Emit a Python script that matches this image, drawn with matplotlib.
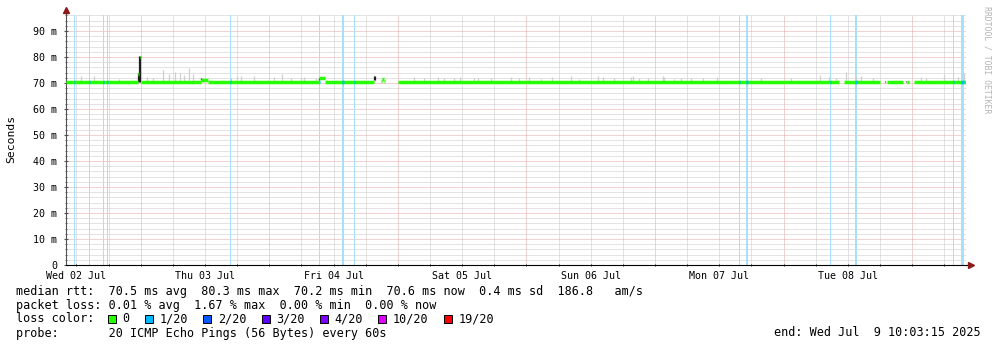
import matplotlib
matplotlib.use("Agg")
import matplotlib.pyplot as plt
from matplotlib.patches import Rectangle

plt.rcParams['font.family'] = ['DejaVu Sans Mono']

# time axis: hours since Wed 02 Jul 2025 00:00
t_start, t_end = 10.054, 178.054
day_label_hours = [12, 36, 60, 84, 108, 132, 156]
day_labels = ["Wed 02 Jul", "Thu 03 Jul", "Fri 04 Jul", "Sat 05 Jul",
              "Sun 06 Jul", "Mon 07 Jul", "Tue 08 Jul"]

y_max = 96.15
yticks = [0, 10, 20, 30, 40, 50, 60, 70, 80, 90]
ytick_labels = ["0", "10 m", "20 m", "30 m", "40 m", "50 m", "60 m",
                "70 m", "80 m", "90 m"]

# median rtt (ms), NaN = no data
med_t = [10.054, 23.45, 23.64, 23.82, 24.01, 35.21, 36.51, 57.23, 58.35,
         67.50, 68.81, 69.09, 69.37, 69.56, 71.98, 154.30, 155.24, 161.96,
         163.27, 166.26, 167.00, 167.38, 168.31, 178.054]
med_v = [70.4, 73.5, float('nan'), 80.0, 70.4, 71.2, 70.4, 71.8, 70.4,
         float('nan'), 70.9, 71.7, 70.9, float('nan'), 70.4, float('nan'),
         70.4, float('nan'), 70.4, float('nan'), 70.4, float('nan'), 70.4, 70.4]

# light smoke spikes (top of ping spread, ms)
smoke_t = [12.81, 15.23, 19.90, 25.13, 26.25, 28.11, 29.23, 30.35, 31.29,
           32.03, 32.97, 33.71, 35.58, 40.81, 41.93, 42.67, 45.10, 48.83,
           50.32, 52.01, 53.87, 54.43, 56.67, 74.97, 76.83, 79.45, 80.57,
           82.43, 83.55, 86.17, 86.91, 89.34, 93.07, 94.57, 96.44, 98.68,
           100.73, 104.28, 105.77, 109.31, 110.25, 112.30, 115.48, 115.85,
           116.97, 118.65, 121.45, 121.63, 123.50, 124.81, 126.68, 128.92,
           131.53, 139.75, 145.35, 150.76, 152.44, 153.75, 155.61, 157.48,
           158.42, 160.66, 169.62, 170.55, 173.91, 176.52, 177.64]
smoke_top = [72.5, 72.6, 71.5, 72.3, 71.8, 75.0, 73.5, 74.3, 73.7,
             73.2, 75.6, 73.5, 71.9, 71.8, 72.7, 72.5, 72.8, 72.2,
             73.3, 71.8, 71.8, 72.2, 71.8, 72.2, 72.0, 72.3, 72.0,
             71.8, 72.3, 72.0, 71.8, 72.0, 72.4, 72.0, 72.2, 71.5,
             72.4, 72.6, 71.6, 72.6, 72.2, 71.8, 72.4, 72.6,
             71.8, 71.8, 72.6, 72.2, 71.5, 71.8, 72.0, 71.8,
             72.2, 72.0, 71.8, 73.1, 72.3, 72.0, 74.3, 72.5,
             72.8, 71.8, 72.3, 72.0, 73.1, 72.4, 73.7]

# dense (dark) smoke
dark_t = [23.55, 23.74, 23.92, 35.21, 57.23, 67.50, 67.69, 162.9, 166.9]
dark_lo = [70.4, 70.4, 70.4, 71.3, 71.0, 71.0, 71.0, 70.2, 70.2]
dark_hi = [74.0, 80.3, 80.3, 71.9, 72.0, 72.6, 72.6, 70.8, 70.8]

# packet loss events (1/20)
loss_t = [11.50, 14.30, 16.91, 17.66, 40.62, 57.24, 61.53, 63.77, 135.63,
          137.03, 152.63, 157.30, 175.59, 177.08, 177.46]
loss_dur = [0.19, 0.19, 0.19, 0.19, 0.19, 0.19, 0.37, 0.19, 0.19,
            0.37, 0.19, 0.37, 0.19, 0.37, 0.19]

loss_labels = ["0", "1/20", "2/20", "3/20", "4/20", "10/20", "19/20"]
loss_colors = ["#26ff00", "#00b8ff", "#0059ff", "#5e00ff", "#7e00ff",
               "#dd00ff", "#ff0000"]

stat_lines = [
    "median rtt:  70.5 ms avg  80.3 ms max  70.2 ms min  70.6 ms now  0.4 ms sd  186.8   am/s",
    "packet loss: 0.01 % avg  1.67 % max  0.00 % min  0.00 % now",
    "loss color:",
    "probe:       20 ICMP Echo Pings (56 Bytes) every 60s",
]
end_text = "end: Wed Jul  9 10:03:15 2025"

W, H = 997, 347
fig = plt.figure(figsize=(W / 100, H / 100), dpi=100)
ax = fig.add_axes([66 / W, (H - 265) / H, 900 / W, 250 / H])
ax.set_xlim(t_start, t_end)
ax.set_ylim(0, y_max)

# grid (dotted)
grid_kw = dict(lw=0.72, ls=(0, (1, 1)), zorder=1)
h = 6 * int(t_start // 6 + 1)
while h < t_end:
    ax.axvline(h, color='#e6a4a4' if h % 24 == 0 else '#c8c8c8', **grid_kw)
    h += 6
for v in range(2, int(y_max) + 1, 2):
    ax.axhline(v, color='#e6a4a4' if v % 10 == 0 else '#c8c8c8', **grid_kw)

# loss background bars
for t, d in zip(loss_t, loss_dur):
    ax.axvspan(t, t + d, color='#a6e0fb', lw=0, zorder=2)

# smoke
ax.vlines(smoke_t, 70.4, smoke_top, color='#cfcfcf', lw=0.9, zorder=3)
ax.vlines(dark_t, dark_lo, dark_hi, color='#1e1e1e', lw=0.9, zorder=4)

# median, one flat piece per sample (no connectors)
for i in range(len(med_t) - 1):
    if med_v[i] == med_v[i]:
        ax.hlines(med_v[i], med_t[i], med_t[i + 1], color=loss_colors[0],
                  lw=2.5, zorder=5)
ax.hlines([70.4] * len(loss_t), loss_t,
          [t + d for t, d in zip(loss_t, loss_dur)],
          color=loss_colors[1], lw=2.5, zorder=6)

# axes
for s in ['top', 'right']:
    ax.spines[s].set_visible(False)
ax.spines['left'].set_color('#505050')
ax.spines['left'].set_linewidth(0.8)
ax.spines['bottom'].set_color('black')
ax.spines['bottom'].set_linewidth(0.8)
ax.plot([0, 0], [1, 1.02], color='#505050', lw=0.8, transform=ax.transAxes,
        clip_on=False)
ax.plot([1, 1.004], [0, 0], color='black', lw=0.8, transform=ax.transAxes,
        clip_on=False)
ax.plot([0], [1.022], marker='^', ms=4, color='#8b1a1a', mec='#8b1a1a',
        transform=ax.transAxes, clip_on=False)
ax.plot([1.005], [0], marker='>', ms=4, color='#8b1a1a', mec='#8b1a1a',
        transform=ax.transAxes, clip_on=False)

ax.set_yticks(yticks)
ax.set_yticklabels(ytick_labels, fontsize=7.2)
ax.set_yticks(range(0, int(y_max) + 1, 2), minor=True)
ax.tick_params(axis='y', which='major', length=3, direction='inout',
               color='#505050', pad=5)
ax.tick_params(axis='y', which='minor', length=2, direction='inout',
               color='#505050')

ax.xaxis.remove_overlapping_locs = False
ax.set_xticks(day_label_hours)
ax.set_xticklabels(day_labels, fontsize=7.2)
ax.set_xticks(range(12, 178, 6), minor=True)
ax.tick_params(axis='x', which='major', length=0, pad=4)
ax.tick_params(axis='x', which='minor', length=2, direction='inout')

fig.text(11 / W, 1 - 139 / H, "Seconds", rotation=90, fontsize=8.2,
         ha='center', va='center')
fig.text(987 / W, 1 - 60 / H, "RRDTOOL / TOBI OETIKER", rotation=270,
         fontsize=5.9, color='#b4b4b4', ha='center', va='center')

# legend
line_y = [291, 305, 319, 333]
for txt, y in zip(stat_lines, line_y):
    fig.text(16 / W, 1 - y / H, txt, fontsize=8.5, ha='left', va='center')
fig.text(981 / W, 1 - 333 / H, end_text, fontsize=8.5, ha='right',
         va='center')

cw = 7.08
x = 108
for lab, col in zip(loss_labels, loss_colors):
    fig.patches.append(Rectangle((x / W, 1 - 322.5 / H), 8 / W, 8 / H,
                                 transform=fig.transFigure, facecolor=col,
                                 edgecolor='black', lw=0.7))
    fig.text((x + 14.5) / W, 1 - 319 / H, lab, fontsize=8.5, ha='left',
             va='center')
    x += 14.5 + len(lab) * cw + 15.5

fig.savefig('out.png', dpi=100)
